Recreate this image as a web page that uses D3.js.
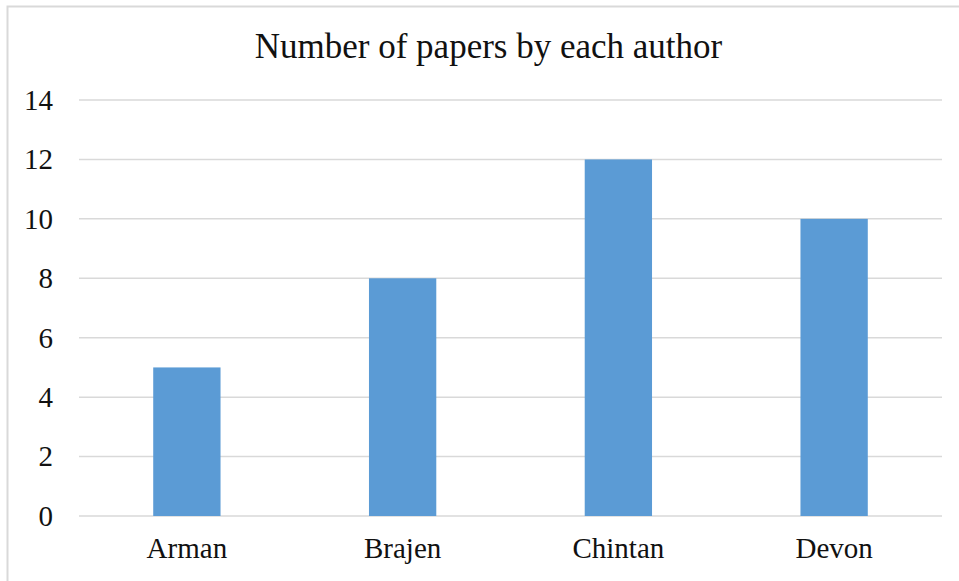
<!DOCTYPE html>
<html>
<head>
<meta charset="utf-8">
<script src="https://cdn.jsdelivr.net/npm/d3@7"></script>
<style>
  html, body { margin: 0; padding: 0; background: #fff; }
  svg { display: block; }
  text { font-family: "Liberation Serif", "Times New Roman", serif; fill: #111; }
</style>
</head>
<body>
<svg id="chart" width="959" height="581"></svg>
<script>
// Papers per author
const authors = ["Arman", "Brajen", "Chintan", "Devon"];
const papers = [5, 8, 12, 10];
const yTicks = [0, 2, 4, 6, 8, 10, 12, 14];
const chartTitle = "Number of papers by each author";

const W = 959, H = 581;
const plot = { left: 79, right: 942, top: 100, bottom: 516 };

const svg = d3.select("#chart");

// outer chart frame
svg.append("rect")
  .attr("x", 7.5).attr("y", 6.5)
  .attr("width", W + 20).attr("height", H + 20)
  .attr("fill", "#fff")
  .attr("stroke", "#d9d9d9")
  .attr("stroke-width", 2);

const x = d3.scaleBand()
  .domain(authors)
  .range([plot.left, plot.right])
  .padding(0);

const y = d3.scaleLinear()
  .domain([0, 14])
  .range([plot.bottom, plot.top]);

// horizontal gridlines
svg.append("g")
  .selectAll("line")
  .data(yTicks)
  .join("line")
  .attr("x1", plot.left).attr("x2", plot.right)
  .attr("y1", d => y(d)).attr("y2", d => y(d))
  .attr("stroke", "#d9d9d9")
  .attr("stroke-width", 1.5);

// y tick labels
svg.append("g")
  .selectAll("text")
  .data(yTicks)
  .join("text")
  .attr("x", 53)
  .attr("y", d => y(d))
  .attr("dy", "0.34em")
  .attr("text-anchor", "end")
  .attr("font-size", 29)
  .text(d => d);

// bars
const barFrac = 0.312;
svg.append("g")
  .selectAll("rect")
  .data(authors)
  .join("rect")
  .attr("x", (d) => x(d) + x.bandwidth() * (1 - barFrac) / 2)
  .attr("width", x.bandwidth() * barFrac)
  .attr("y", (d, i) => y(papers[i]))
  .attr("height", (d, i) => y(0) - y(papers[i]))
  .attr("fill", "#5b9bd5");

// category labels
svg.append("g")
  .selectAll("text")
  .data(authors)
  .join("text")
  .attr("x", d => x(d) + x.bandwidth() / 2)
  .attr("y", 558)
  .attr("text-anchor", "middle")
  .attr("font-size", 29)
  .text(d => d);

// title
svg.append("text")
  .attr("x", (253 + 724) / 2)
  .attr("y", 58)
  .attr("text-anchor", "middle")
  .attr("font-size", 35)
  .text(chartTitle);
</script>
</body>
</html>
